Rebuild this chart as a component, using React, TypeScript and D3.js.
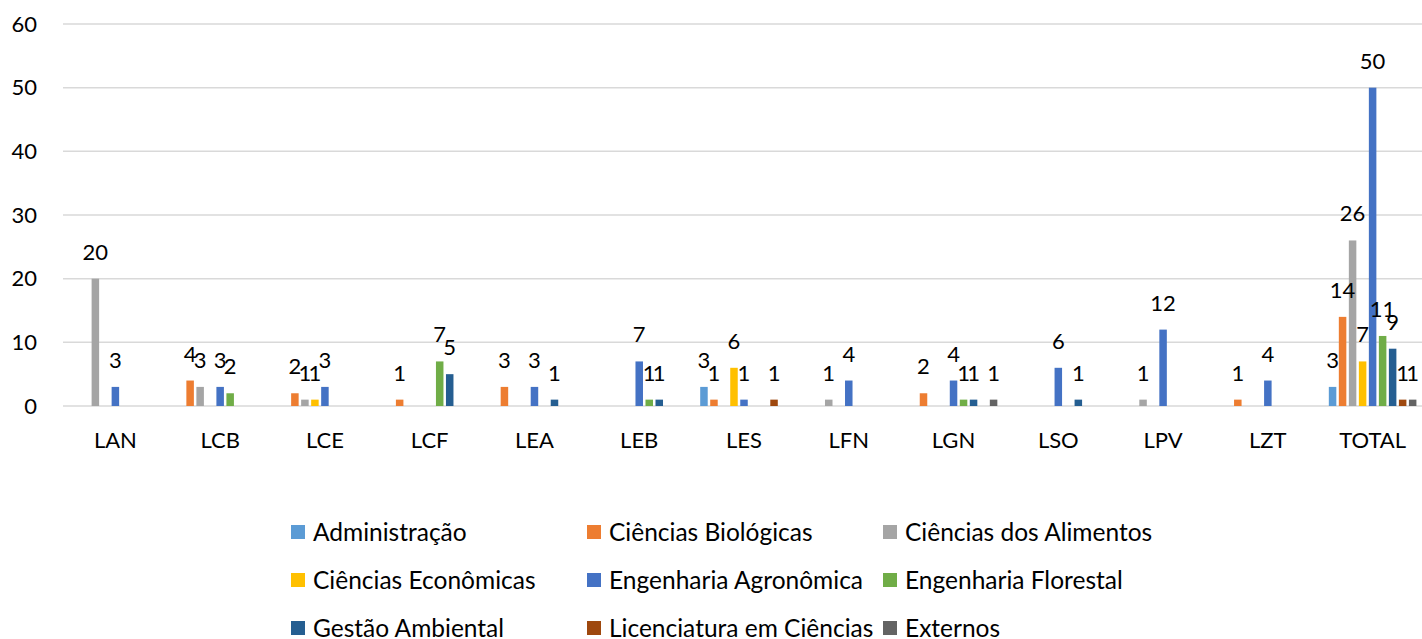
import React from 'react';
import * as d3 from 'd3';

const categories = ['LAN', 'LCB', 'LCE', 'LCF', 'LEA', 'LEB', 'LES', 'LFN', 'LGN', 'LSO', 'LPV', 'LZT', 'TOTAL'];

// one array per course, null = empty cell (no bar, no label)
const administracao = [null, null, null, null, null, null, 3, null, null, null, null, null, 3];
const biologicas = [null, 4, 2, 1, 3, null, 1, null, 2, null, null, 1, 14];
const alimentos = [20, 3, 1, null, null, null, null, 1, null, null, 1, null, 26];
const economicas = [null, null, 1, null, null, null, 6, null, null, null, null, null, 7];
const agronomica = [3, 3, 3, null, 3, 7, 1, 4, 4, 6, 12, 4, 50];
const florestal = [null, 2, null, 7, null, 1, null, null, 1, null, null, null, 11];
const gestao = [null, null, null, 5, 1, 1, null, null, 1, 1, null, null, 9];
const licenciatura = [null, null, null, null, null, null, 1, null, null, null, null, null, 1];
const externos = [null, null, null, null, null, null, null, null, 1, null, null, null, 1];

const yTicks = [0, 10, 20, 30, 40, 50, 60];

const series = [
  { name: 'Administração', color: '#5B9BD5', values: administracao },
  { name: 'Ciências Biológicas', color: '#ED7D31', values: biologicas },
  { name: 'Ciências dos Alimentos', color: '#A5A5A5', values: alimentos },
  { name: 'Ciências Econômicas', color: '#FFC000', values: economicas },
  { name: 'Engenharia Agronômica', color: '#4472C4', values: agronomica },
  { name: 'Engenharia Florestal', color: '#70AD47', values: florestal },
  { name: 'Gestão Ambiental', color: '#255E91', values: gestao },
  { name: 'Licenciatura em Ciências', color: '#9E480E', values: licenciatura },
  { name: 'Externos', color: '#636363', values: externos },
];

const W = 1422;
const H = 639;
const FONT = 'Lato, "Open Sans", sans-serif';

export default function App() {
  const x0 = d3.scaleBand<string>().domain(categories).range([63, 1425]).paddingInner(0.14).paddingOuter(0.07);
  const x1 = d3.scaleBand<string>()
    .domain(series.map(s => s.name))
    .range([0, x0.bandwidth()])
    .paddingInner(0.25)
    .paddingOuter(0.125);
  const y = d3.scaleLinear().domain([0, 60]).range([406, 24]);

  const legendCols = [291, 587, 883];
  const legendRows = [532, 580, 628];

  return (
    <svg width={W} height={H} style={{ position: 'absolute', left: 0, top: 0, background: '#fff' }} fontFamily={FONT}>
      {/* grid */}
      {yTicks.map(t => (
        <g key={t}>
          <line x1={63} x2={W} y1={y(t)} y2={y(t)} stroke="#D9D9D9" strokeWidth={1.5} />
          <text x={37} y={y(t)} dy="0.35em" textAnchor="end" fontSize={22} fill="#000">{t}</text>
        </g>
      ))}

      {/* bars */}
      {series.map(s => (
        <g key={s.name} fill={s.color}>
          {s.values.map((v, i) => v == null ? null : (
            <rect key={i}
              x={(x0(categories[i]) ?? 0) + (x1(s.name) ?? 0)}
              y={y(v)}
              width={x1.bandwidth()}
              height={y(0) - y(v)} />
          ))}
        </g>
      ))}

      {/* data labels */}
      {series.map(s => (
        <g key={s.name + '-lbl'} fontSize={22} fill="#000" textAnchor="middle">
          {s.values.map((v, i) => v == null ? null : (
            <text key={i}
              x={(x0(categories[i]) ?? 0) + (x1(s.name) ?? 0) + x1.bandwidth() / 2}
              y={y(v) - 19}>{v}</text>
          ))}
        </g>
      ))}

      {/* category labels */}
      {categories.map(c => (
        <text key={c} x={(x0(c) ?? 0) + x0.bandwidth() / 2} y={448} textAnchor="middle" fontSize={22} fill="#000">{c}</text>
      ))}

      {/* legend */}
      {series.map((s, i) => {
        const lx = legendCols[i % 3];
        const ly = legendRows[Math.floor(i / 3)];
        return (
          <g key={s.name + '-leg'}>
            <rect x={lx} y={ly - 7} width={14} height={14} fill={s.color} />
            <text x={lx + 22} y={ly} dy="0.35em" fontSize={24.5} fill="#000">{s.name}</text>
          </g>
        );
      })}
    </svg>
  );
}
